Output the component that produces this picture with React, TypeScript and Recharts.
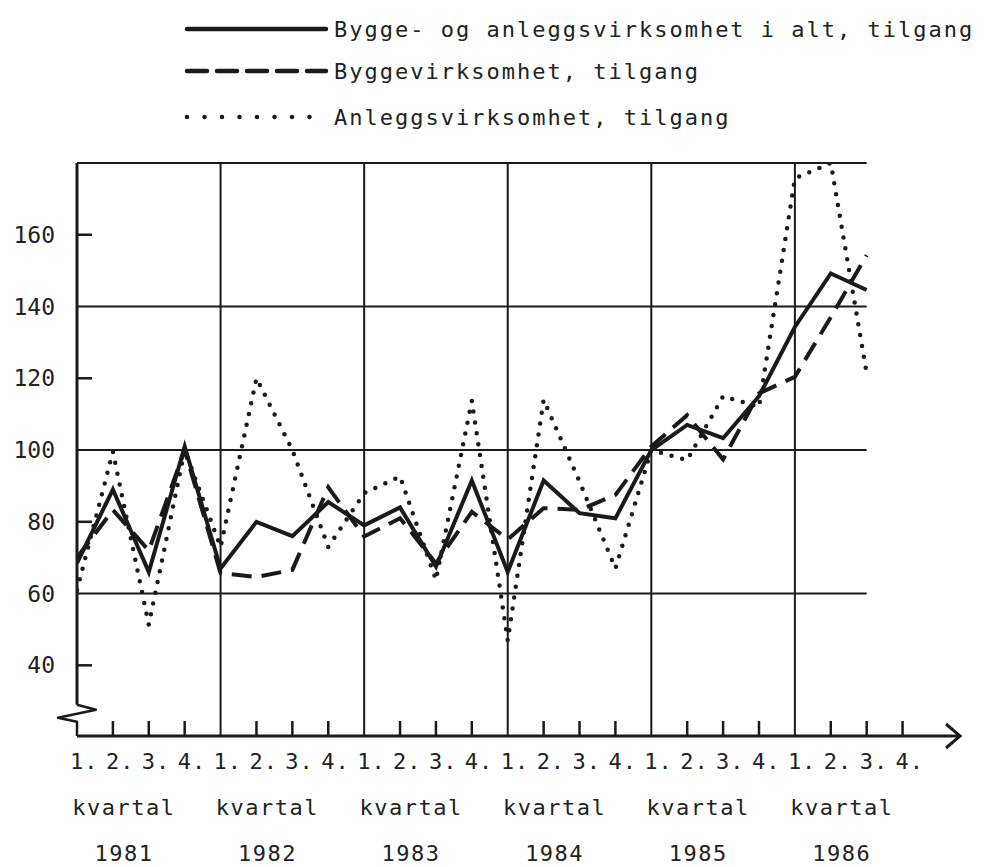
import React from "react";
import { LineChart, Line, XAxis, YAxis, ReferenceLine, ReferenceDot } from "recharts";

const quarterLabels = ["1.", "2.", "3.", "4."];
const yearLabels = ["1981", "1982", "1983", "1984", "1985", "1986"];

// 1981 Q1 .. 1986 Q3
const total = [68.5, 89, 66, 101, 67, 80, 76, 85.5, 79, 84, 67.5, 91.5, 66, 91.5, 82.4, 81, 100, 107, 103.3, 115, 134.3, 149.2, 144.6];
const building = [70, 83.3, 72, 100, 65.7, 64.6, 66.6, 89.6, 75.9, 81, 68.4, 82.8, 75.1, 83.8, 83.3, 87.5, 101, 109.7, 97.4, 115.8, 120.4, 137, 154.3];
const civil = [61, 99.5, 51.3, 100, 73, 120, 100, 73, 88, 92.6, 63.8, 113.7, 46.9, 114, 91.2, 67, 100, 97.2, 115, 112, 175.7, 180, 121.4];

const yTicks = [40, 60, 80, 100, 120, 140, 160];
const yTickMarks = [40, 80, 120, 160];
const gridValues = [60, 100, 140, 180];
const yearStarts = [4, 8, 12, 16, 20];

const data = Array.from({ length: 24 }, (_, i) => ({
  idx: i,
  total: total[i] ?? null,
  building: building[i] ?? null,
  civil: civil[i] ?? null,
}));

const FONT = "'DejaVu Sans Mono', 'Liberation Mono', monospace";
const INK = "#1a1a1a";
const Y_MIN = 20.3;
const Y_MAX = 180;
const X_MAX = 24.6;
const LAST = 22;

const XTick = (props: any) => {
  const { x, y, payload } = props;
  const i = payload.value as number;
  return (
    <g>
      {i % 4 !== 0 && <line x1={x} x2={x} y1={y} y2={y - 15} stroke={INK} strokeWidth={2.5} />}
      <text x={x - 7} y={y + 33} fontFamily={FONT} fontSize={22} letterSpacing={1} fill="#222">
        {quarterLabels[i % 4]}
      </text>
      {i % 4 === 1 && (
        <>
          <text x={x + 11} y={y + 79} textAnchor="middle" fontFamily={FONT} fontSize={22} letterSpacing={1.5} fill="#222">
            kvartal
          </text>
          <text x={x + 11} y={y + 125} textAnchor="middle" fontFamily={FONT} fontSize={22} letterSpacing={1.5} fill="#222">
            {yearLabels[Math.floor(i / 4)]}
          </text>
        </>
      )}
    </g>
  );
};

const YTick = (props: any) => {
  const { x, y, payload } = props;
  const v = payload.value as number;
  return (
    <g>
      {yTickMarks.includes(v) && <line x1={x} x2={x + 15} y1={y} y2={y} stroke={INK} strokeWidth={2.5} />}
      <text x={x - 22} y={y + 8} textAnchor="end" fontFamily={FONT} fontSize={23} fill="#222">
        {v}
      </text>
    </g>
  );
};

const AxisBreak = (p: any) => {
  const { x1, y1, x2, y2 } = p;
  return (
    <path
      d={`M${x1},${y1} L${x1 + 19},${y1 + 5} L${x1 - 19},${y1 + 13} L${x1},${y1 + 17} L${x2},${y2}`}
      fill="none"
      stroke={INK}
      strokeWidth={2.5}
      strokeLinejoin="round"
    />
  );
};

const Arrow = (p: any) => {
  const { cx, cy } = p;
  return (
    <path d={`M${cx - 14},${cy - 12} L${cx},${cy} L${cx - 14},${cy + 12}`} fill="none" stroke={INK} strokeWidth={3} />
  );
};

const legendRows = [
  { label: "Bygge- og anleggsvirksomhet i alt, tilgang", y: 29, dash: undefined, width: 4.5 },
  { label: "Byggevirksomhet, tilgang", y: 71, dash: "20 10", width: 4.5 },
  { label: "Anleggsvirksomhet, tilgang", y: 117, dash: "0 17.5", width: 4.5 },
];

export default function App() {
  return (
    <div style={{ position: "absolute", left: 0, top: 0, width: 988, height: 867, background: "#fff" }}>
      <svg width={988} height={140} style={{ position: "absolute", left: 0, top: 0 }}>
        {legendRows.map((r) => (
          <g key={r.label}>
            <line x1={187} x2={326} y1={r.y} y2={r.y} stroke={INK} strokeWidth={r.width} strokeDasharray={r.dash} strokeLinecap="round" />
            <text x={334} y={r.y + 8} fontFamily={FONT} fontSize={22} letterSpacing={2} fill="#222">
              {r.label}
            </text>
          </g>
        ))}
      </svg>
      <LineChart width={988} height={867} data={data} margin={{ top: 163, right: 28, bottom: 0, left: 17 }}>
        <XAxis
          dataKey="idx"
          type="number"
          domain={[0, X_MAX]}
          ticks={data.map((d) => d.idx)}
          interval={0}
          height={131}
          tickSize={0}
          tickMargin={0}
          tickLine={false}
          axisLine={{ stroke: INK, strokeWidth: 3 }}
          tick={<XTick />}
          allowDataOverflow
        />
        <YAxis
          type="number"
          domain={[Y_MIN, Y_MAX]}
          ticks={yTicks}
          interval={0}
          width={60}
          tickSize={0}
          tickMargin={0}
          tickLine={false}
          axisLine={false}
          tick={<YTick />}
          allowDataOverflow
        />
        {gridValues.map((v) => (
          <ReferenceLine key={"h" + v} segment={[{ x: 0, y: v }, { x: LAST, y: v }]} stroke={INK} strokeWidth={2} ifOverflow="visible" />
        ))}
        {yearStarts.map((v) => (
          <ReferenceLine key={"v" + v} x={v} stroke={INK} strokeWidth={2} />
        ))}
        <ReferenceLine segment={[{ x: 0, y: Y_MAX }, { x: 0, y: 29 }]} stroke={INK} strokeWidth={3} ifOverflow="visible" />
        <ReferenceLine segment={[{ x: 0, y: 29 }, { x: 0, y: Y_MIN }]} shape={<AxisBreak />} ifOverflow="visible" />
        <ReferenceDot x={X_MAX} y={Y_MIN} r={1} ifOverflow="visible" shape={<Arrow />} />
        <Line type="linear" dataKey="civil" stroke={INK} strokeWidth={4.5} strokeDasharray="0 11" strokeLinecap="round" dot={false} isAnimationActive={false} />
        <Line type="linear" dataKey="building" stroke={INK} strokeWidth={4} strokeDasharray="20 10" dot={false} isAnimationActive={false} />
        <Line type="linear" dataKey="total" stroke={INK} strokeWidth={4} dot={false} isAnimationActive={false} />
      </LineChart>
    </div>
  );
}
